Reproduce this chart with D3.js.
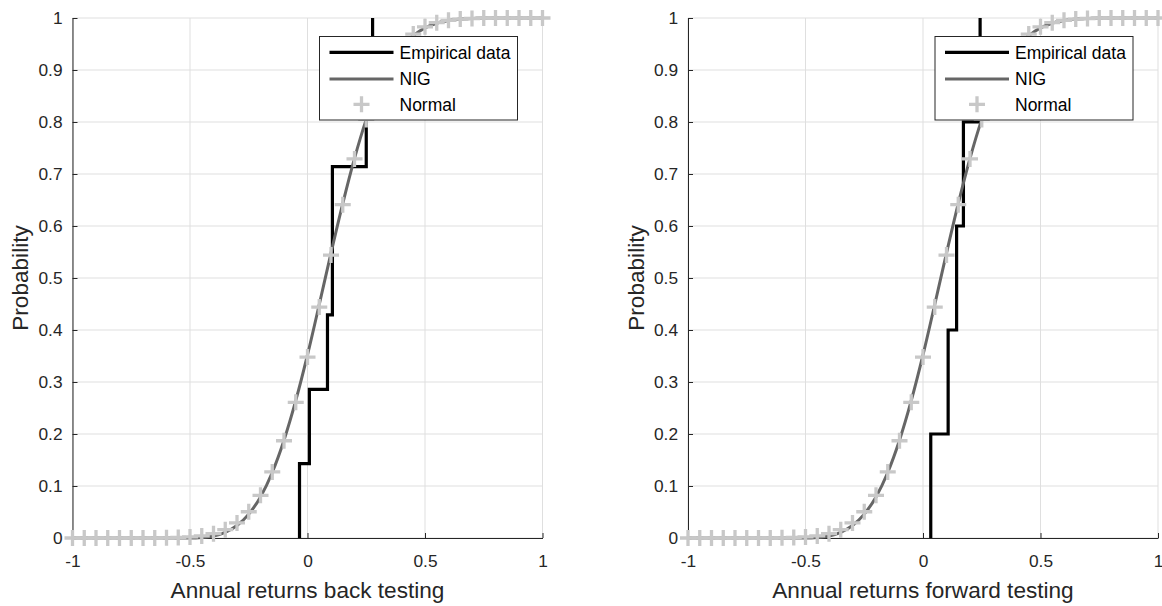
<!DOCTYPE html>
<html lang="en">
<head>
<meta charset="UTF-8">
<title>Empirical vs NIG vs Normal CDF</title>
<script src="https://cdn.jsdelivr.net/npm/d3@7"></script>
<style>
    body { margin: 0; background: #fff; }
    svg { display: block; font-family: "Liberation Sans", Arial, Helvetica, sans-serif; }
    .grid line { stroke: #dfdfdf; stroke-width: 1; }
    .axis path, .axis line { stroke: #262626; stroke-width: 1; }
    .axis text { fill: #262626; font-size: 17.3px; }
    .label { fill: #262626; font-size: 22.6px; }
    .legend text { fill: #000; font-size: 17.5px; }
</style>
</head>
<body>
<svg id="chart" width="1162" height="606"></svg>
<script>
    // tick values
    let xTicks = [-1, -0.5, 0, 0.5, 1]
    let yTicks = [0, 0.1, 0.2, 0.3, 0.4, 0.5, 0.6, 0.7, 0.8, 0.9, 1]

    // evaluation grid of the fitted cdfs
    let gridX = [-1, -0.95, -0.9, -0.85, -0.8, -0.75, -0.7, -0.65, -0.6, -0.55,
        -0.5, -0.45, -0.4, -0.35, -0.3, -0.25, -0.2, -0.15, -0.1, -0.05,
        0, 0.05, 0.1, 0.15, 0.2, 0.25, 0.3, 0.35, 0.4, 0.45,
        0.5, 0.55, 0.6, 0.65, 0.7, 0.75, 0.8, 0.85, 0.9, 0.95, 1]

    let normalCdf = [0, 0, 0, 0, 0, 0, 0, 0, 0.0003, 0.001,
        0.002, 0.004, 0.0084, 0.016, 0.029, 0.0505, 0.082, 0.127, 0.187, 0.261,
        0.348, 0.444, 0.544, 0.641, 0.729, 0.805, 0.867, 0.913, 0.946, 0.969,
        0.983, 0.991, 0.9955, 0.998, 0.999, 1, 1, 1, 1, 1, 1]

    let nigCdf = [0, 0, 0, 0, 0, 0, 0, 0, 0, 0,
        0, 0.001, 0.004, 0.011, 0.024, 0.046, 0.079, 0.126, 0.188, 0.264,
        0.352, 0.449, 0.548, 0.643, 0.73, 0.805, 0.866, 0.913, 0.946, 0.966,
        0.981, 0.99, 0.995, 0.998, 0.999, 1, 1, 1, 1, 1, 1]

    // empirical cdf steps
    let backX = [-0.034, 0.008, 0.085, 0.106, 0.106, 0.25, 0.277]
    let backP = [0.143, 0.286, 0.429, 0.571, 0.714, 0.857, 1]
    let fwdX = [0.033, 0.107, 0.143, 0.172, 0.243]
    let fwdP = [0.2, 0.4, 0.6, 0.8, 1]

    let legendNames = ["Empirical data", "NIG", "Normal"]

    let empColor = "#000000"
    let nigColor = "#666666"
    let normColor = "#c8c8c8"

    let svg = d3.select("#chart")
    let plotTop = 18, plotBottom = 538, plotW = 470
    let plusPath = "M-8,0H8M0,-8V8"

    let panels = [
        {left: 72.5, xs: backX, ps: backP, label: "Annual returns back testing"},
        {left: 688, xs: fwdX, ps: fwdP, label: "Annual returns forward testing"}
    ]

    panels.forEach(function (p) {
        let x = d3.scaleLinear().domain([-1, 1]).range([p.left, p.left + plotW])
        let y = d3.scaleLinear().domain([0, 1]).range([plotBottom, plotTop])
        let g = svg.append("g")

        // grid
        let grid = g.append("g").attr("class", "grid")
        grid.selectAll(".gx").data(xTicks).enter().append("line")
            .attr("x1", d => x(d)).attr("x2", d => x(d))
            .attr("y1", plotTop).attr("y2", plotBottom)
        grid.selectAll(".gy").data(yTicks).enter().append("line")
            .attr("x1", p.left).attr("x2", p.left + plotW)
            .attr("y1", d => y(d)).attr("y2", d => y(d))

        // axes
        g.append("g").attr("class", "axis")
            .attr("transform", `translate(0,${plotBottom})`)
            .call(d3.axisBottom(x).tickValues(xTicks).tickSizeInner(-5).tickSizeOuter(0)
                .tickPadding(17).tickFormat(d => String(d)))
        g.append("g").attr("class", "axis")
            .attr("transform", `translate(${p.left},0)`)
            .call(d3.axisLeft(y).tickValues(yTicks).tickSizeInner(-5).tickSizeOuter(0)
                .tickPadding(10).tickFormat(d => String(d)))

        // empirical stairs
        let stairs = [[p.xs[0], 0]].concat(p.xs.map((v, i) => [v, p.ps[i]]))
        g.append("path")
            .attr("d", d3.line().x(d => x(d[0])).y(d => y(d[1])).curve(d3.curveStepAfter)(stairs))
            .attr("fill", "none").attr("stroke", empColor).attr("stroke-width", 3.2)

        // NIG
        g.append("path")
            .attr("d", d3.line().x((d, i) => x(gridX[i])).y(d => y(d)).curve(d3.curveMonotoneX)(nigCdf))
            .attr("fill", "none").attr("stroke", nigColor).attr("stroke-width", 3)

        // Normal markers
        g.selectAll(".norm").data(normalCdf).enter().append("path")
            .attr("d", plusPath)
            .attr("transform", (d, i) => `translate(${x(gridX[i])},${y(d)})`)
            .attr("stroke", normColor).attr("stroke-width", 3.3).attr("fill", "none")

        // labels
        g.append("text").attr("class", "label")
            .attr("x", p.left + plotW / 2).attr("y", 598)
            .attr("text-anchor", "middle").text(p.label)
        g.append("text").attr("class", "label")
            .attr("transform", `translate(${p.left - 44.5},${(plotTop + plotBottom) / 2}) rotate(-90)`)
            .attr("text-anchor", "middle").text("Probability")

        // legend
        let lw = 198, lh = 83.5
        let lx = p.left + plotW - 25 - lw, ly = 36.5
        let lg = g.append("g").attr("class", "legend").attr("transform", `translate(${lx},${ly})`)
        lg.append("rect").attr("width", lw).attr("height", lh)
            .attr("fill", "#fff").attr("stroke", "#262626").attr("stroke-width", 1)
        let rows = [15.8, 42.5, 67.8]
        lg.append("line").attr("x1", 10).attr("x2", 74).attr("y1", rows[0]).attr("y2", rows[0])
            .attr("stroke", empColor).attr("stroke-width", 3.2)
        lg.append("line").attr("x1", 10).attr("x2", 74).attr("y1", rows[1]).attr("y2", rows[1])
            .attr("stroke", nigColor).attr("stroke-width", 3)
        lg.append("path").attr("d", plusPath)
            .attr("transform", `translate(42,${rows[2]})`)
            .attr("stroke", normColor).attr("stroke-width", 3.3)
        lg.selectAll(".lt").data(legendNames).enter().append("text")
            .attr("x", 80).attr("y", (d, i) => rows[i]).attr("dy", "0.36em")
            .text(d => d)
    })
</script>
</body>
</html>
